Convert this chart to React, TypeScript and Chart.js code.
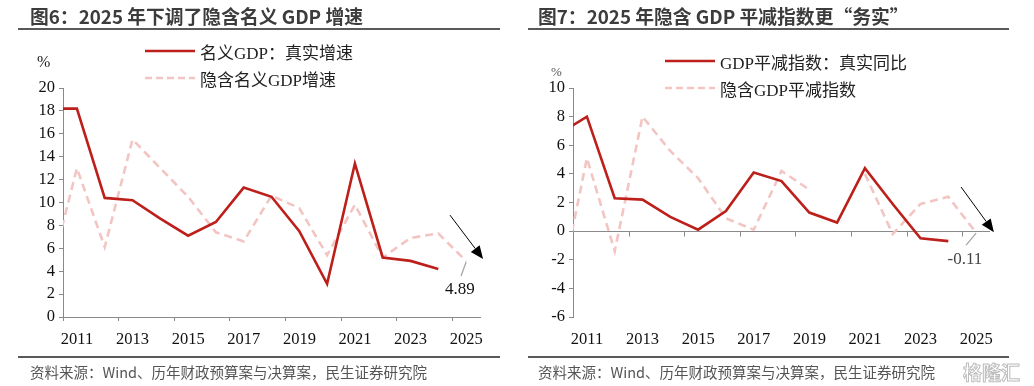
import React, { useEffect, useRef } from 'react';
import { Chart, registerables } from 'chart.js';

Chart.register(...registerables);

// ---------- data ----------
const years = [2010, 2011, 2012, 2013, 2014, 2015, 2016, 2017, 2018, 2019, 2020, 2021, 2022, 2023, 2024, 2025];
const xLabelYears = [2011, 2013, 2015, 2017, 2019, 2021, 2023, 2025];

// Figure 6
const nominalGdpReal = [18.2, 18.2, 10.4, 10.2, 8.6, 7.1, 8.3, 11.3, 10.5, 7.5, 2.9, 13.4, 5.2, 4.9, 4.2, null];
const impliedNominalGdp = [3.4, 13.0, 6.1, 15.5, 13.0, 10.5, 7.4, 6.6, 10.6, 9.5, 5.4, 9.8, 5.2, 6.9, 7.3, 4.89];

// Figure 7
const deflatorReal = [6.8, 8.0, 2.3, 2.2, 1.0, 0.1, 1.4, 4.1, 3.5, 1.3, 0.6, 4.4, 1.9, -0.5, -0.7, null];
const impliedDeflator = [-4.5, 5.1, -1.4, 8.0, 5.6, 3.7, 0.9, 0.1, 4.2, 2.9, null, 4.0, -0.2, 1.9, 2.4, -0.11];

const legend1 = ['名义GDP：真实增速', '隐含名义GDP增速'];
const legend2 = ['GDP平减指数：真实同比', '隐含GDP平减指数'];
const title1 = '图6：2025 年下调了隐含名义 GDP 增速';
const title2 = '图7：2025 年隐含 GDP 平减指数更“务实”';
const sourceText = '资料来源：Wind、历年财政预算案与决算案，民生证券研究院';

// ---------- styles ----------
const SERIF = "'Liberation Serif', 'Times New Roman', 'Noto Sans CJK SC', serif";
const SANS = "'Noto Sans CJK SC', 'Noto Sans', sans-serif";
const RED = '#BD1F1A';
const PINK = '#F2C5C3';
const AXIS = '#8a8a8a';
const TICK_FONT = { family: SERIF, size: 16.5 };

type Annot = {
  zeroAxis?: boolean;
  arrow: [number, number, number, number];
  leader: [number, number, number, number];
  label: { text: string; x: number; y: number; color: string };
};

const annotPlugin = {
  id: 'annot',
  beforeDatasetsDraw(chart: any, _args: any, opts: Annot) {
    if (!opts || !opts.zeroAxis) return;
    const xs = chart.scales.x;
    const ys = chart.scales.y;
    const ctx = chart.ctx;
    const y0 = Math.round(ys.getPixelForValue(0)) + 0.5;
    ctx.save();
    ctx.strokeStyle = AXIS;
    ctx.lineWidth = 1;
    ctx.beginPath();
    ctx.moveTo(chart.chartArea.left, y0);
    ctx.lineTo(chart.chartArea.right, y0);
    xs.ticks.forEach((t: any) => {
      const x = Math.round(xs.getPixelForValue(t.value)) + 0.5;
      ctx.moveTo(x, y0);
      ctx.lineTo(x, y0 + 5);
    });
    ctx.stroke();
    ctx.restore();
  },
  afterDatasetsDraw(chart: any, _args: any, opts: Annot) {
    if (!opts || !opts.arrow) return;
    const xs = chart.scales.x;
    const ys = chart.scales.y;
    const px = (v: number) => xs.getPixelForValue(v);
    const py = (v: number) => ys.getPixelForValue(v);
    const ctx = chart.ctx;
    ctx.save();
    // leader line
    const [lx1, ly1, lx2, ly2] = opts.leader;
    ctx.strokeStyle = '#a6a6a6';
    ctx.lineWidth = 1.3;
    ctx.beginPath();
    ctx.moveTo(px(lx1), py(ly1));
    ctx.lineTo(px(lx2), py(ly2));
    ctx.stroke();
    // arrow
    const [ax1, ay1, ax2, ay2] = opts.arrow;
    const x1 = px(ax1), y1 = py(ay1), x2 = px(ax2), y2 = py(ay2);
    const ang = Math.atan2(y2 - y1, x2 - x1);
    const hl = 13, hw = 5.5;
    const bx = x2 - hl * Math.cos(ang), by = y2 - hl * Math.sin(ang);
    ctx.strokeStyle = '#000';
    ctx.fillStyle = '#000';
    ctx.lineWidth = 1;
    ctx.beginPath();
    ctx.moveTo(x1, y1);
    ctx.lineTo(bx, by);
    ctx.stroke();
    ctx.beginPath();
    ctx.moveTo(x2, y2);
    ctx.lineTo(bx + hw * Math.sin(ang), by - hw * Math.cos(ang));
    ctx.lineTo(bx - hw * Math.sin(ang), by + hw * Math.cos(ang));
    ctx.closePath();
    ctx.fill();
    // label
    ctx.font = `17px ${SERIF}`;
    ctx.fillStyle = opts.label.color;
    ctx.textAlign = 'center';
    ctx.textBaseline = 'middle';
    ctx.fillText(opts.label.text, px(opts.label.x), py(opts.label.y));
    ctx.restore();
  },
};

type ChartSpec = {
  solid: (number | null)[];
  dashed: (number | null)[];
  names: string[];
  yMin: number;
  yMax: number;
  padLeft: number;
  padRight: number;
  zeroAxis: boolean;
  annot: Annot;
};

function buildConfig(spec: ChartSpec): any {
  const toPts = (arr: (number | null)[]) => years.map((y, i) => ({ x: y, y: arr[i] }));
  return {
    type: 'line',
    data: {
      datasets: [
        {
          label: spec.names[0],
          data: toPts(spec.solid),
          borderColor: RED,
          borderWidth: 2.6,
          pointRadius: 0,
          tension: 0,
          spanGaps: false,
        },
        {
          label: spec.names[1],
          data: toPts(spec.dashed),
          borderColor: PINK,
          borderWidth: 2.6,
          borderDash: [8, 5],
          pointRadius: 0,
          tension: 0,
          spanGaps: false,
        },
      ],
    },
    options: {
      responsive: false,
      animation: false,
      events: [],
      layout: { padding: { left: spec.padLeft, right: spec.padRight, top: 88, bottom: 24 } },
      plugins: {
        legend: { display: false },
        tooltip: { enabled: false },
        annot: { ...spec.annot, zeroAxis: spec.zeroAxis },
      },
      scales: {
        x: {
          type: 'linear',
          min: 2010.5,
          max: 2025.5,
          bounds: 'data',
          afterBuildTicks: (s: any) => {
            s.ticks = xLabelYears.map((v) => ({ value: v - 0.5 }));
          },
          afterFit: (s: any) => {
            s.height = 45;
          },
          ticks: {
            autoSkip: false,
            maxRotation: 0,
            labelOffset: 14,
            padding: 9,
            color: '#111',
            font: TICK_FONT,
            callback: (v: number) => String(v + 0.5),
          },
          grid: {
            display: true,
            drawOnChartArea: false,
            drawTicks: true,
            tickLength: 4,
            color: spec.zeroAxis ? 'rgba(0,0,0,0)' : AXIS,
          },
          border: { display: !spec.zeroAxis, color: AXIS, width: 1 },
        },
        y: {
          min: spec.yMin,
          max: spec.yMax,
          afterFit: (s: any) => {
            s.width = 40;
          },
          ticks: { stepSize: 2, padding: 4, color: '#111', font: TICK_FONT },
          grid: { drawOnChartArea: false, drawTicks: true, tickLength: 4, color: AXIS },
          border: { display: true, color: AXIS, width: 1 },
        },
      },
    },
    plugins: [annotPlugin],
  };
}

function ChartCanvas({ spec, left }: { spec: ChartSpec; left: number }) {
  const ref = useRef<HTMLCanvasElement | null>(null);
  useEffect(() => {
    if (!ref.current) return;
    const chart = new Chart(ref.current, buildConfig(spec));
    return () => chart.destroy();
  }, []);
  return (
    <canvas
      ref={ref}
      width={517}
      height={386}
      style={{ position: 'absolute', left, top: 0, width: 517, height: 386, display: 'block' }}
    />
  );
}

function LegendRow({ x, y, text, dashed }: { x: number; y: number; text: string; dashed: boolean }) {
  return (
    <div
      style={{
        position: 'absolute',
        left: x,
        top: y - 12,
        height: 24,
        display: 'flex',
        alignItems: 'center',
        whiteSpace: 'nowrap',
        fontFamily: SERIF,
        fontSize: 17,
        color: '#222',
      }}
    >
      <svg width={50} height={6} style={{ display: 'block', marginRight: 5 }}>
        <line
          x1={0}
          y1={3}
          x2={50}
          y2={3}
          stroke={dashed ? PINK : RED}
          strokeWidth={2.6}
          strokeDasharray={dashed ? '7 4' : undefined}
        />
      </svg>
      <span>{text}</span>
    </div>
  );
}

function Rule({ x1, x2, y }: { x1: number; x2: number; y: number }) {
  return <div style={{ position: 'absolute', left: x1, top: y - 1, width: x2 - x1, height: 2, background: '#595959' }} />;
}

function TextAt({ x, y, text, style }: { x: number; y: number; text: string; style: React.CSSProperties }) {
  return (
    <div style={{ position: 'absolute', left: x, top: y - 12, height: 24, lineHeight: '24px', whiteSpace: 'nowrap', ...style }}>
      {text}
    </div>
  );
}

const spec1: ChartSpec = {
  solid: nominalGdpReal,
  dashed: impliedNominalGdp,
  names: legend1,
  yMin: 0,
  yMax: 20,
  padLeft: 23,
  padRight: 37,
  zeroAxis: false,
  annot: {
    arrow: [2024.42, 8.9, 2025.61, 5.07],
    leader: [2025.0, 4.8, 2024.82, 3.58],
    label: { text: '4.89', x: 2024.78, y: 2.36, color: '#111' },
  },
};

const spec2: ChartSpec = {
  solid: deflatorReal,
  dashed: impliedDeflator,
  names: legend2,
  yMin: -6,
  yMax: 10,
  padLeft: 16,
  padRight: 44,
  zeroAxis: true,
  annot: {
    arrow: [2024.46, 3.08, 2025.64, -0.07],
    leader: [2025.0, -0.14, 2024.64, -0.98],
    label: { text: '-0.11', x: 2024.6, y: -1.96, color: '#444' },
  },
};

export default function App() {
  useEffect(() => {
    document.body.style.margin = '0';
  }, []);
  const titleStyle: React.CSSProperties = { fontFamily: SANS, fontWeight: 700, fontSize: 18.8, color: '#3c3c3c' };
  const srcStyle: React.CSSProperties = { fontFamily: SANS, fontSize: 14.5, color: '#555' };
  return (
    <div style={{ position: 'fixed', left: 0, top: 0, width: 1034, height: 386, background: '#fff', overflow: 'hidden' }}>
      <ChartCanvas spec={spec1} left={0} />
      <ChartCanvas spec={spec2} left={517} />

      <TextAt x={30} y={16} text={title1} style={titleStyle} />
      <TextAt x={538} y={16} text={title2} style={titleStyle} />
      <Rule x1={18} x2={500} y={29} />
      <Rule x1={528} x2={1009} y={29} />

      <LegendRow x={145} y={51} text={legend1[0]} dashed={false} />
      <LegendRow x={145} y={78} text={legend1[1]} dashed={true} />
      <LegendRow x={665} y={61} text={legend2[0]} dashed={false} />
      <LegendRow x={665} y={88} text={legend2[1]} dashed={true} />

      <TextAt x={37} y={62} text="%" style={{ fontFamily: SERIF, fontSize: 16, color: '#222' }} />
      <TextAt x={551} y={72} text="%" style={{ fontFamily: SERIF, fontSize: 13, color: '#555' }} />

      <Rule x1={18} x2={500} y={357} />
      <Rule x1={528} x2={1009} y={357} />
      <TextAt x={30} y={372} text={sourceText} style={srcStyle} />
      <TextAt x={538} y={372} text={sourceText} style={srcStyle} />
      <div
        style={{
          position: 'absolute',
          left: 963,
          top: 361,
          height: 22,
          lineHeight: '22px',
          fontFamily: SANS,
          fontSize: 19,
          fontWeight: 700,
          color: '#fff',
          WebkitTextStroke: '1px #bdbdbd',
          whiteSpace: 'nowrap',
        }}
      >
        格隆汇
      </div>
    </div>
  );
}
